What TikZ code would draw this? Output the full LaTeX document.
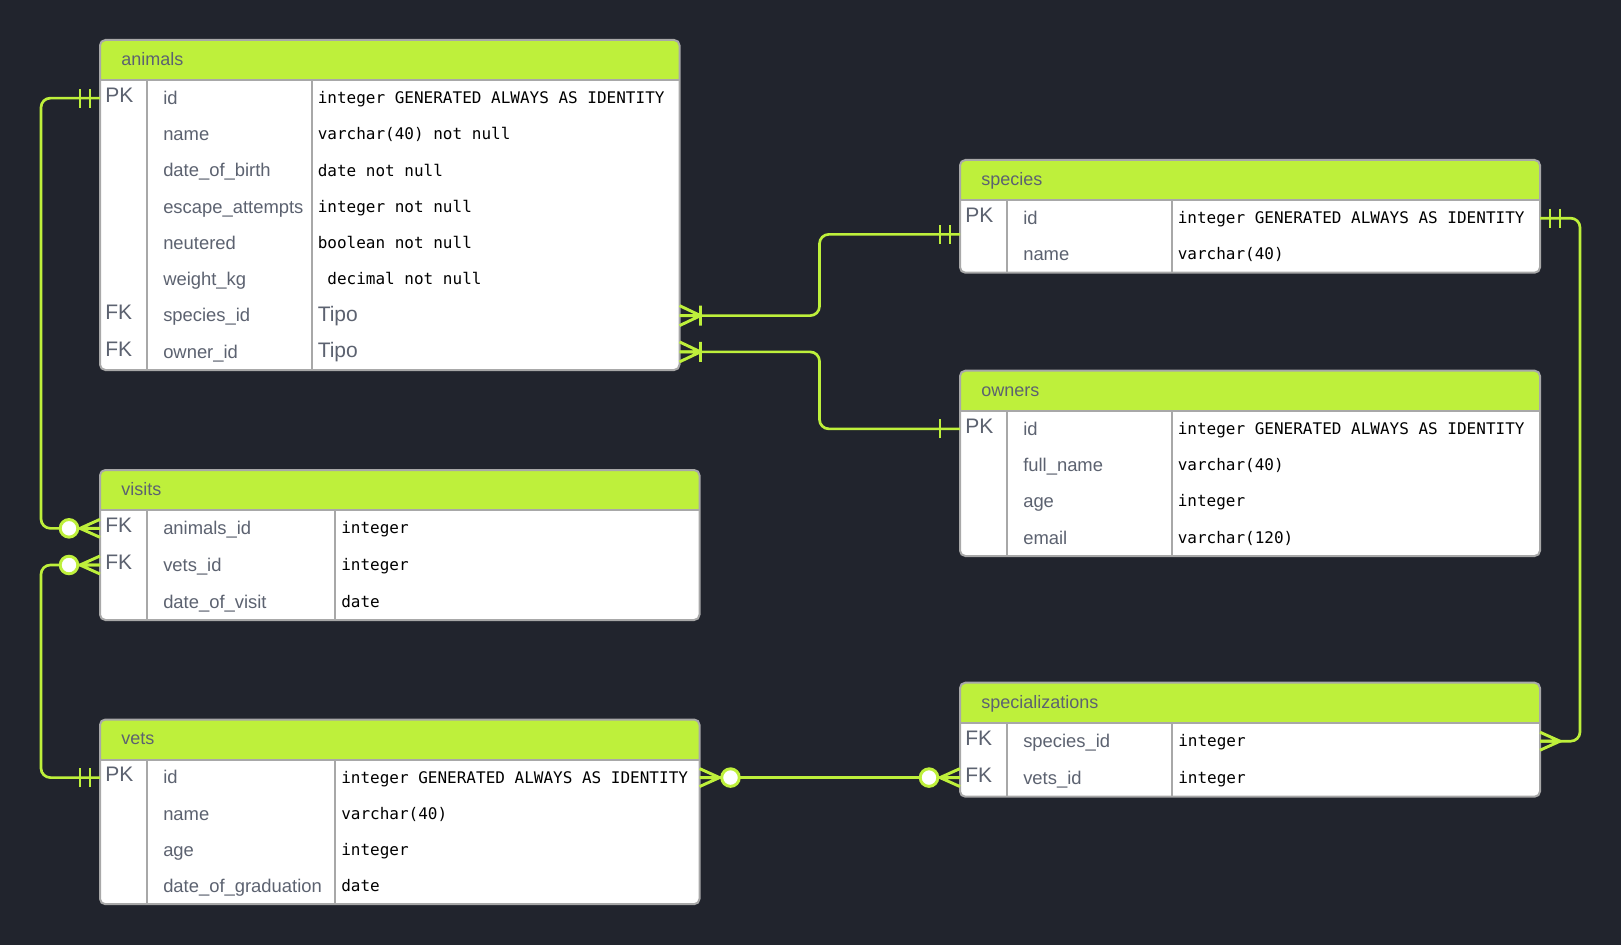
\documentclass[tikz,border=0pt]{standalone}
\usepackage{fontspec}
\setmainfont{Liberation Sans}
\setmonofont{DejaVu Sans Mono}
\definecolor{bg}{RGB}{33,36,45}
\definecolor{lime}{RGB}{190,240,59}
\definecolor{rim}{RGB}{168,168,168}
\definecolor{ink}{RGB}{92,98,112}
\newcommand{\tipo}{\rmfamily\fontsize{15.75}{18}\selectfont\color{ink}Tipo}
% table: name, x, y, width, height, title, divider 1, divider 2, rows key/field/type
\newcommand{\erdtable}[9]{
  \foreach \r [count=\n] in {#9} {\xdef\erdn{\n}}
  \pgfmathsetmacro{\erdh}{(#5-40)/\erdn}
  \node[tbl, minimum width=#4*0.75pt, minimum height=#5*0.75pt] (#1) at (#2,#3) {};
  \begin{scope}
    \clip (#2,#3) rectangle (#2+#4,#3+40);
    \fill[hdr, rounded corners=4pt] (#2,#3) rectangle (#2+#4,#3+#5);
  \end{scope}
  \draw[rimline] (#2,#3+40) -- (#2+#4,#3+40);
  \draw[rimline] (#2+#7,#3+40) -- (#2+#7,#3+#5);
  \draw[rimline] (#2+#8,#3+40) -- (#2+#8,#3+#5);
  \draw[rimline, rounded corners=4pt] (#2,#3) rectangle (#2+#4,#3+#5);
  \node[ttl] (#1-title) at (#2+21,#3+22) {#6};
  \foreach \k/\f/\t [count=\i] in {#9} {
    \pgfmathsetmacro{\ry}{#3+40+(\i-0.5)*\erdh}
    \coordinate (#1-\i) at (#2,\ry);
    \ifx\k\empty\else
      \node[keytxt] (#1-\i-key) at (#2+5,\ry+1) {\k};
    \fi
    \node[fldtxt] (#1-\i-field) at (#2+#7+16,\ry+3) {\f};
    \node[typtxt] (#1-\i-type) at (#2+#8+6,\ry+2) {\t};
  }
}
\tikzset{
  tbl/.style={fill=white, rounded corners=4pt, inner sep=0pt, outer sep=0pt, anchor=north west},
  hdr/.style={fill=lime},
  rimline/.style={draw=rim, line width=1.5pt},
  ttl/.style={anchor=west, inner sep=0pt, text=ink, text height=0.72em, text depth=0.22em,
              font=\fontsize{13.5}{16}\selectfont},
  keytxt/.style={anchor=west, inner sep=0pt, text=ink, text height=0.72em, text depth=0.22em,
                 font=\fontsize{15.75}{18}\selectfont},
  fldtxt/.style={anchor=west, inner sep=0pt, text=ink, text height=0.72em, text depth=0.22em,
                 font=\fontsize{13.8}{16}\selectfont},
  typtxt/.style={anchor=west, inner sep=0pt, text=black, text height=0.76em, text depth=0.24em,
                 font=\ttfamily\fontsize{12}{14}\selectfont},
  rel/.style={draw=lime, line width=2pt, rounded corners=7pt},
  relmark/.style={draw=lime, line width=2.2pt},
  doublebar/.pic={\draw[relmark] (10,-9.5) -- (10,9.5) (20,-9.5) -- (20,9.5);},
  singlebar/.pic={\draw[relmark] (20,-9.5) -- (20,9.5);},
  crow/.pic={\draw[relmark] (0,-9) -- (20,0) -- (0,9) (0,0) -- (20,0);},
  crowbar/.pic={\draw[relmark] (0,-10) -- (21,0) -- (0,10) (0,0) -- (21,0) (21,-10) -- (21,10);},
  crowring/.pic={\draw[relmark] (0,-9) -- (20,0) -- (0,9) (0,0) -- (20,0);
                 \draw[relmark, fill=white] (31,0) circle[radius=6.6pt];}
}
\begin{document}
\begin{tikzpicture}[x=0.75pt, y=-0.75pt]
\useasboundingbox (0,0) rectangle (1621,945);
\fill[bg] (0,0) rectangle (1621,945);

\erdtable{animals}{100}{40}{579.5}{330}{animals}{47}{211.5}{
  PK/id/{integer GENERATED ALWAYS AS IDENTITY},
  /name/{varchar(40) not null},
  /date\_of\_birth/{date not null},
  /escape\_attempts/{integer not null},
  /neutered/{boolean not null},
  /weight\_kg/{\ decimal not null},
  FK/species\_id/{\tipo},
  FK/owner\_id/{\tipo}}
\erdtable{species}{960}{160}{580}{112.7}{species}{47}{211.5}{
  PK/id/{integer GENERATED ALWAYS AS IDENTITY},
  /name/{varchar(40)}}
\erdtable{owners}{960}{370.7}{580}{185.3}{owners}{47}{211.5}{
  PK/id/{integer GENERATED ALWAYS AS IDENTITY},
  /full\_name/{varchar(40)},
  /age/{integer},
  /email/{varchar(120)}}
\erdtable{visits}{100}{470}{599.5}{150}{visits}{47}{235}{
  FK/animals\_id/{integer},
  FK/vets\_id/{integer},
  /date\_of\_visit/{date}}
\erdtable{vets}{100}{719.5}{599.5}{184.7}{vets}{47}{235}{
  PK/id/{integer GENERATED ALWAYS AS IDENTITY},
  /name/{varchar(40)},
  /age/{integer},
  /date\_of\_graduation/{date}}
\erdtable{spec}{960}{682.7}{580}{114}{specializations}{47}{212}{
  FK/species\_id/{integer},
  FK/vets\_id/{integer}}

% relations
\coordinate (sp-in) at ([yshift=-13.5pt]species.west);
\draw[rel] (animals.west |- animals-1) -- ++(-59,0) |- (visits.west |- visits-1);
\draw[rel] (vets.west |- vets-1) -- ++(-59,0) |- (visits.west |- visits-2);
\draw[rel] (animals.east |- animals-7) -- ++(140,0) |- (sp-in);
\draw[rel] (animals.east |- animals-8) -- ++(140,0) |- (owners.west |- owners-1);
\draw[rel] (species.east |- species-1) -- ++(40,0) |- (spec.east |- spec-1);
\draw[rel] (vets.east |- vets-1) -- (spec.west |- vets-1);

\pic[rotate=180] at (animals.west |- animals-1) {doublebar};
\pic[rotate=180] at (visits.west |- visits-1) {crowring};
\pic[rotate=180] at (vets.west |- vets-1) {doublebar};
\pic[rotate=180] at (visits.west |- visits-2) {crowring};
\pic at (animals.east |- animals-7) {crowbar};
\pic[rotate=180] at (sp-in) {doublebar};
\pic at (animals.east |- animals-8) {crowbar};
\pic[rotate=180] at (owners.west |- owners-1) {singlebar};
\pic at (species.east |- species-1) {doublebar};
\pic at (spec.east |- spec-1) {crow};
\pic at (vets.east |- vets-1) {crowring};
\pic[rotate=180] at (spec.west |- vets-1) {crowring};
\end{tikzpicture}
\end{document}
